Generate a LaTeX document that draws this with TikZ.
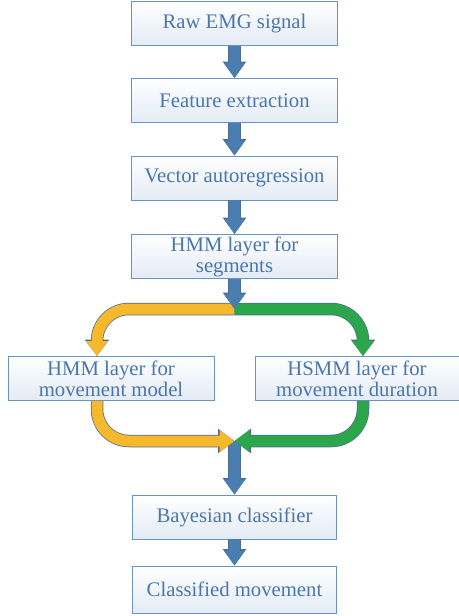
\documentclass[tikz,border=0pt]{standalone}
\usepackage{fontspec}
\setmainfont{Liberation Serif}
\usetikzlibrary{arrows.meta,calc}
\definecolor{box-edge}{HTML}{6A93C4}
\definecolor{box-fill}{HTML}{E3EBF5}
\definecolor{box-text}{HTML}{4A76AF}
\definecolor{flow-blue}{HTML}{4A7DB0}
\definecolor{flow-yellow}{HTML}{F6B92B}
\definecolor{flow-green}{HTML}{2CA64B}
\definecolor{flow-edge}{HTML}{4B6D93}

\begin{document}
\begin{tikzpicture}[
  x=1bp, y=-1bp,
  stage/.style={rectangle, draw=box-edge, line width=0.9bp,
    top color=white, bottom color=box-fill, text=box-text,
    minimum width=206bp, minimum height=44bp, inner sep=2pt,
    align=center, font=\fontsize{20.8}{21}\selectfont},
  flowblue/.style={line width=11bp, draw=flow-blue,
    -{Triangle[width=20bp,length=15bp]},
    preaction={draw=flow-edge, line width=12.5bp,
      -{Triangle[width=22.5bp,length=16.5bp]}}},
  flowyellow/.style={line width=11bp, draw=flow-yellow, rounded corners=32bp,
    -{Triangle[width=21bp,length=15bp]},
    preaction={draw=flow-edge, line width=12.5bp,
      -{Triangle[width=23.5bp,length=16.5bp]}}},
  flowgreen/.style={flowyellow, draw=flow-green},
]
  \useasboundingbox (0,0) rectangle (459,616);

  % main column
  \node[stage] (raw)   at (234.5,23.5)  {Raw EMG signal};
  \node[stage] (feat)  at (234.5,100.5) {Feature extraction};
  \node[stage] (var)   at (234.5,178)   {Vector autoregression};
  \node[stage] (seg)   at (234.5,256.5) {HMM layer for\\segments};
  % two branches
  \node[stage] (hmm)   at (111,378.5)   {HMM layer for\\movement model};
  \node[stage, minimum width=204bp] (hsmm) at (357,378.5) {HSMM layer for\\movement duration};
  % output
  \node[stage, minimum width=204bp] (bayes) at (234.5,517) {Bayesian classifier};
  \node[stage, minimum width=204bp, minimum height=47bp] (cls) at (234.5,589.5) {Classified movement};

  \coordinate (split) at (234.5,309);
  \coordinate (merge) at (234.5,441);

  \draw[flowblue] (raw.south) -- (feat.north);
  \draw[flowblue] (feat.south) -- (var.north);
  \draw[flowblue] (var.south) -- (seg.north);

  % split into the two layers
  \draw[flowyellow] (split) -| ([xshift=-14bp]hmm.north);
  \draw[flowgreen] (split) -| ([xshift=6bp]hsmm.north);
  \draw[flowblue] (seg.south) -- (split);

  % merge again
  \draw[flowblue] (merge) -- (bayes.north);
  \draw[flowyellow] ([xshift=-14bp]hmm.south) |- (merge);
  \draw[flowgreen] ([xshift=6bp]hsmm.south) |- (merge);

  \draw[flowblue] (bayes.south) -- (cls.north);
\end{tikzpicture}
\end{document}
